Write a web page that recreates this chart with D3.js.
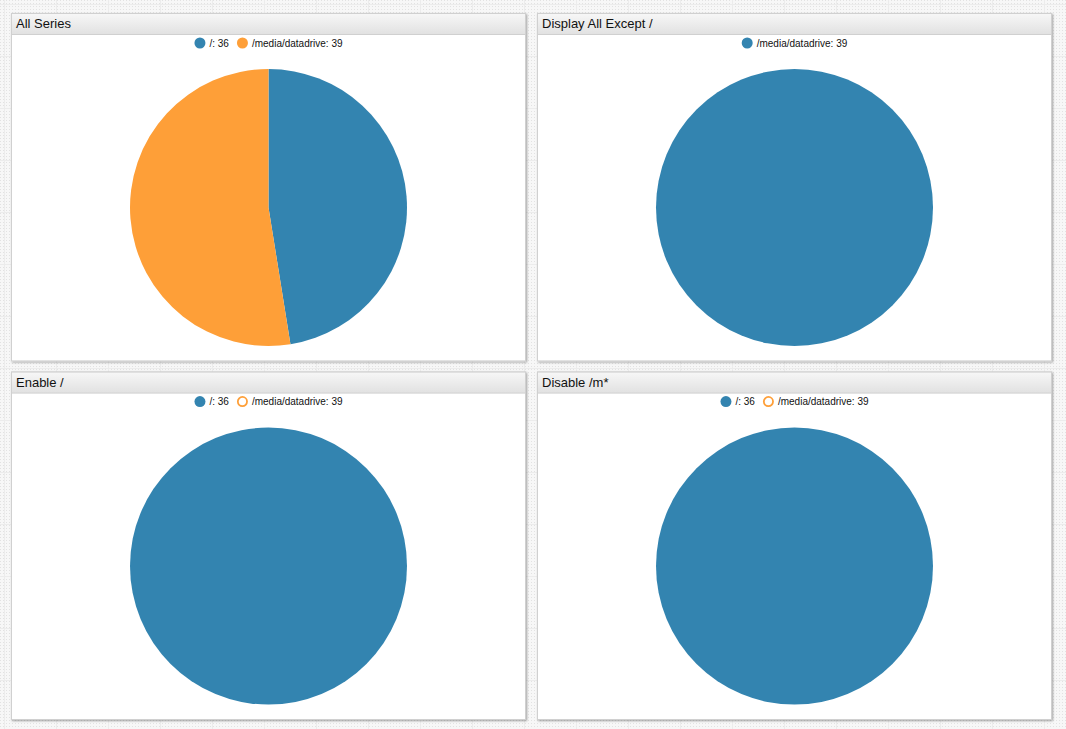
<!DOCTYPE html>
<html><head><meta charset="utf-8">
<script src="https://cdn.jsdelivr.net/npm/d3@7"></script>
<style>
html,body{margin:0;padding:0;overflow:hidden;}
svg{display:block;font-family:"Liberation Sans",Arial,sans-serif;}
</style></head>
<body>
<svg id="c" width="1066" height="729"></svg>
<script>
const seriesNames = ["/", "/media/datadrive"];
// values; legend shows them rounded
const seriesValues = [35.6, 39.4];
const panelTitles = ["All Series", "Display All Except /", "Enable /", "Disable /m*"];
// which series appear in legend per panel
const panelLegend = [[0,1],[1],[0,1],[0,1]];
// which series are enabled (drawn) per panel
const panelEnabled = [[0,1],[1],[0],[0]];
const palette = ["#3384b0", "#fe9f38"];
const fmt = d3.format(".0f");

const svg = d3.select("#c");
const W = 1066, H = 729;
const defs = svg.append("defs");
const pat = defs.append("pattern").attr("id","dots").attr("width",3).attr("height",3).attr("patternUnits","userSpaceOnUse");
pat.append("rect").attr("width",3).attr("height",3).attr("fill","#f7f7f7");
pat.append("rect").attr("width",1).attr("height",1).attr("fill","#e2e2e2");
const grad = defs.append("linearGradient").attr("id","hdr").attr("x1",0).attr("y1",0).attr("x2",0).attr("y2",1);
grad.append("stop").attr("offset","0%").attr("stop-color","#f7f7f7");
grad.append("stop").attr("offset","100%").attr("stop-color","#e1e1e1");
const flt = defs.append("filter").attr("id","sh").attr("x","-5%").attr("y","-5%").attr("width","110%").attr("height","110%");
flt.append("feDropShadow").attr("dx",1).attr("dy",1).attr("stdDeviation",1.2).attr("flood-color","#000").attr("flood-opacity",0.35);

svg.append("rect").attr("width",W).attr("height",H).attr("fill","url(#dots)");
const gx = d3.range(0, W, 52), gy = d3.range(0, H, 52);
svg.append("g").selectAll("line.v").data(gx).join("line")
  .attr("x1",d=>d+4.5).attr("x2",d=>d+4.5).attr("y1",0).attr("y2",H).attr("stroke","#ececec");
svg.append("g").selectAll("line.h").data(gy).join("line")
  .attr("y1",d=>d+4.5).attr("y2",d=>d+4.5).attr("x1",0).attr("x2",W).attr("stroke","#ececec");

const colX = d3.scaleBand().domain([0,1]).range([11, 1052]).paddingInner(11/526);
const rowY = d3.scaleBand().domain([0,1]).range([13, 720]).paddingInner(10/354);
const hdrH = 21;
const R = 138.5;

panelTitles.forEach((title, i) => {
  const px = colX(i % 2), py = rowY(Math.floor(i / 2));
  const pw = colX.bandwidth(), ph = rowY.bandwidth();
  const g = svg.append("g").attr("transform", `translate(${px},${py})`);
  g.append("rect").attr("x",0.5).attr("y",0.5).attr("width",pw-1).attr("height",ph-1)
    .attr("fill","#fff").attr("stroke","#d0d0d0").attr("filter","url(#sh)");
  g.append("rect").attr("x",0.5).attr("y",0.5).attr("width",pw-1).attr("height",hdrH)
    .attr("fill","url(#hdr)").attr("stroke","#d0d0d0");
  g.append("text").attr("x",5).attr("y",15).attr("font-size",13).attr("fill","#111").text(title);

  const lg = g.append("g");
  let cx = 0;
  panelLegend[i].forEach((s) => {
    const enabled = panelEnabled[i].includes(s);
    const color = palette[panelLegend[i].indexOf(s)];
    const it = lg.append("g").attr("transform", `translate(${cx},0)`);
    if (enabled) it.append("circle").attr("cx",5.5).attr("cy",0).attr("r",5.5).attr("fill",color);
    else it.append("circle").attr("cx",5.5).attr("cy",0).attr("r",4.6).attr("fill","none").attr("stroke",color).attr("stroke-width",1.8);
    const t = it.append("text").attr("x",15).attr("y",3.5).attr("font-size",10).attr("fill","#111")
      .text(`${seriesNames[s]}: ${fmt(seriesValues[s])}`);
    cx += 15 + t.node().getComputedTextLength() + 8;
  });
  const lw = cx - 8;
  lg.attr("transform", `translate(${pw/2 - lw/2},${30})`);

  const data = panelEnabled[i].map(s => ({s, v: seriesValues[s]}));
  const colorOf = s => palette[panelLegend[i].indexOf(s)];
  const pie = d3.pie().sort(null).value(d => d.v);
  const arc = d3.arc().innerRadius(0).outerRadius(R);
  g.append("g").attr("transform", `translate(${pw/2},${194.5})`)
    .selectAll("path").data(pie(data)).join("path")
    .attr("d", arc).attr("fill", d => colorOf(d.data.s));
});
</script>
</body></html>
